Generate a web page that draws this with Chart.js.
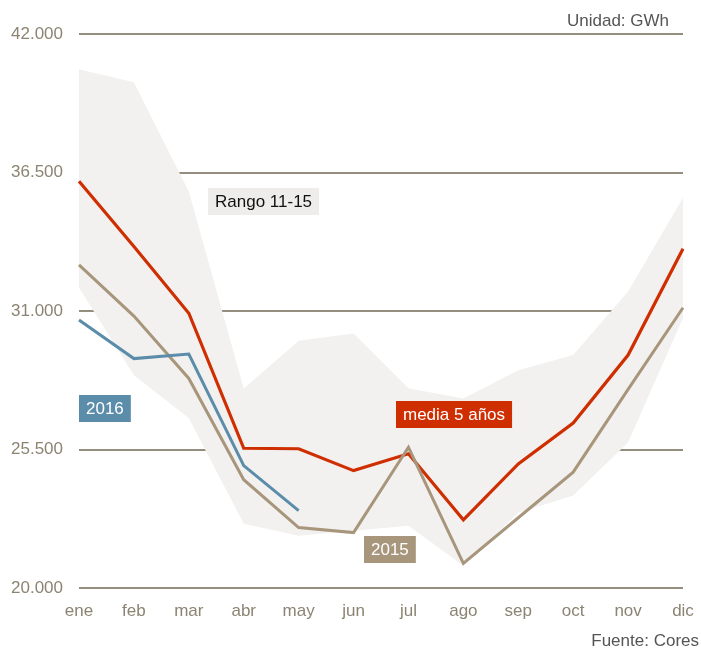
<!DOCTYPE html>
<html>
<head>
<meta charset="utf-8">
<script src="https://cdn.jsdelivr.net/npm/chart.js@4"></script>
<style>
  html, body { margin: 0; padding: 0; background: #fff; }
  #wrap { width: 701px; height: 648px; position: relative; }
</style>
</head>
<body>
<div id="wrap"><canvas id="reservasChart" width="701" height="648"></canvas></div>
<script>
// Data (GWh)
const months = ['ene', 'feb', 'mar', 'abr', 'may', 'jun', 'jul', 'ago', 'sep', 'oct', 'nov', 'dic'];
const rangoMax = [40600, 40080, 35750, 27920, 29820, 30110, 27930, 27530, 28650, 29250, 31770, 35500];
const rangoMin = [31920, 28450, 26740, 22550, 22070, 22270, 22470, 20880, 22990, 23670, 25780, 30720];
const media5 = [36150, 33560, 30910, 25550, 25530, 24660, 25330, 22710, 24930, 26550, 29250, 33470];
const y2015 = [32830, 30800, 28320, 24300, 22400, 22200, 25590, 20980, 22790, 24600, 27890, 31130];
const y2016 = [30640, 29110, 29290, 24860, 23070];
const yTicks = [20000, 25500, 31000, 36500, 42000];

const FONT = '"Liberation Sans", Arial, Helvetica, sans-serif';
const RED = '#cf2e00';
const TAN = '#a8967c';
const BLUE = '#5b8ca9';

// labels painted on top of the chart
const tags = [
  { text: 'Rango 11-15', x: 208, y: 188, bg: '#eeede9', color: '#111' },
  { text: '2016', x: 79, y: 395, bg: BLUE, color: '#fff' },
  { text: 'media 5 años', x: 396, y: 401, bg: RED, color: '#fff' },
  { text: '2015', x: 364, y: 536, bg: TAN, color: '#fff' }
];

const extras = {
  id: 'extras',
  afterDatasetsDraw(chart) {
    const c = chart.ctx;
    c.save();
    c.font = '17px ' + FONT;
    c.textBaseline = 'middle';
    tags.forEach(t => {
      const w = c.measureText(t.text).width + 14;
      c.fillStyle = t.bg;
      c.fillRect(t.x, t.y, w, 27);
      c.fillStyle = t.color;
      c.textAlign = 'left';
      c.fillText(t.text, t.x + 7, t.y + 14);
    });
    c.fillStyle = '#555';
    c.textAlign = 'right';
    c.fillText('Unidad: GWh', 669, 21);
    c.fillText('Fuente: Cores', 699, 641);
    c.restore();
  }
};

const ctx = document.getElementById('reservasChart').getContext('2d');

new Chart(ctx, {
  type: 'line',
  data: {
    labels: months,
    datasets: [
      {
        label: 'max',
        data: rangoMax,
        fill: '+1',
        backgroundColor: '#f2f1ef',
        borderWidth: 0,
        pointRadius: 0,
        order: 10
      },
      {
        label: 'min',
        data: rangoMin,
        fill: false,
        borderWidth: 0,
        pointRadius: 0,
        order: 11
      },
      {
        label: 'media 5 años',
        data: media5,
        borderColor: RED,
        borderWidth: 3.2,
        pointRadius: 0,
        fill: false,
        order: 3
      },
      {
        label: '2015',
        data: y2015,
        borderColor: TAN,
        borderWidth: 3,
        pointRadius: 0,
        fill: false,
        order: 2
      },
      {
        label: '2016',
        data: y2016,
        borderColor: BLUE,
        borderWidth: 3,
        pointRadius: 0,
        fill: false,
        order: 1
      }
    ]
  },
  options: {
    responsive: false,
    animation: false,
    layout: {
      padding: { top: 34, right: 18, bottom: 20, left: 0 }
    },
    plugins: {
      legend: { display: false },
      tooltip: { enabled: false }
    },
    elements: {
      line: { tension: 0, borderJoinStyle: 'miter' }
    },
    scales: {
      x: {
        offset: false,
        grid: { display: false },
        border: { display: false },
        ticks: {
          color: '#8c8473',
          font: { family: FONT, size: 17 },
          padding: 5,
          maxRotation: 0,
          autoSkip: false
        },
        afterFit(scale) { scale.height = 40; }
      },
      y: {
        min: 20000,
        max: 42000,
        afterBuildTicks(scale) {
          scale.ticks = yTicks.map(v => ({ value: v }));
        },
        grid: {
          color: '#958e7e',
          lineWidth: 2,
          drawTicks: false
        },
        border: { display: false },
        ticks: {
          color: '#8c8473',
          font: { family: FONT, size: 17 },
          padding: 16,
          callback: v => v.toLocaleString('de-DE')
        },
        afterFit(scale) { scale.width = 79; }
      }
    }
  },
  plugins: [extras]
});
</script>
</body>
</html>
